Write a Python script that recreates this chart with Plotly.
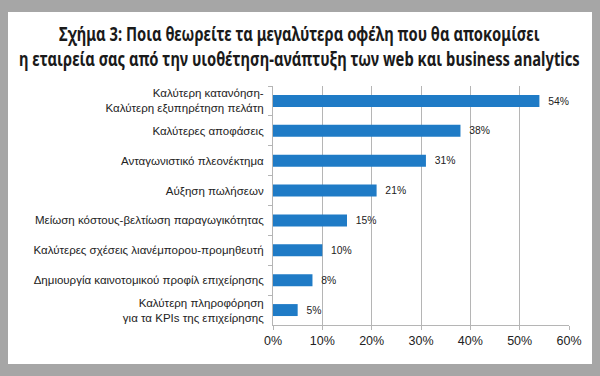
import plotly.graph_objects as go

categories = [
    "Καλύτερη κατανόηση-<br>Καλύτερη εξυπηρέτηση πελάτη",
    "Καλύτερες αποφάσεις",
    "Ανταγωνιστικό πλεονέκτημα",
    "Αύξηση πωλήσεων",
    "Μείωση κόστους-βελτίωση παραγωγικότητας",
    "Καλύτερες σχέσεις λιανέμπορου-προμηθευτή",
    "Δημιουργία καινοτομικού προφίλ επιχείρησης",
    "Καλύτερη πληροφόρηση<br>για τα KPIs της επιχείρησης",
]
values = [54, 38, 31, 21, 15, 10, 8, 5]
x_ticks = [0, 10, 20, 30, 40, 50, 60]
x_tick_labels = ["0%", "10%", "20%", "30%", "40%", "50%", "60%"]

title_text = ("Σχήμα 3: Ποια θεωρείτε τα μεγαλύτερα οφέλη που θα αποκομίσει<br>"
              "η εταιρεία σας από την υιοθέτηση-ανάπτυξη των web και business analytics")

L, R, T, B = 273, 31, 86, 51
W, H = 600, 376
pw, ph = W - L - R, H - T - B

def px2x(px):
    return (px - L) / pw

def py2y(py):
    return (H - B - py) / ph

fig = go.Figure()
fig.add_trace(go.Bar(
    x=values, y=categories, orientation="h",
    marker=dict(color="#1f7bc6", line=dict(width=0)),
    text=[f"{v}%" for v in values],
    textposition="outside",
    texttemplate="  %{text}",
    textfont=dict(family="Liberation Sans, Arial", size=13, color="#222222"),
    cliponaxis=False,
    width=0.4,
))

fig.add_shape(type="rect", xref="paper", yref="paper",
              x0=px2x(8), x1=px2x(592), y0=py2y(364), y1=py2y(12),
              fillcolor="white", line=dict(width=0), layer="below")

fig.add_annotation(text=title_text, xref="paper", yref="paper",
                   x=px2x(299), y=py2y(47), xanchor="center", yanchor="middle",
                   showarrow=False, align="center",
                   font=dict(family="Noto Sans", size=19,
                             color="#1a1a1a", weight="bold"))

fig.update_layout(
    width=W, height=H,
    margin=dict(l=L, r=R, t=T, b=B),
    paper_bgcolor="#a6a6a6",
    plot_bgcolor="white",
    showlegend=False,
    xaxis=dict(range=[0, 60], tickvals=x_ticks, ticktext=x_tick_labels,
               showgrid=True, gridcolor="#b5b5b5", gridwidth=1,
               showline=True, linecolor="#b5b5b5", linewidth=1,
               ticks="outside", ticklen=4, tickcolor="#b5b5b5",
               tickfont=dict(family="Liberation Sans, Arial", size=12.5, color="#222222"),
               zeroline=False, fixedrange=True),
    yaxis=dict(autorange="reversed", showline=True, linecolor="#b5b5b5", linewidth=1,
               ticks="outside", ticklen=4, tickcolor="#b5b5b5", tickson="boundaries",
               tickfont=dict(family="Liberation Sans, Arial", size=11.5, color="#222222"),
               ticklabelstandoff=6, showgrid=False, fixedrange=True),
)

post = """
document.body.style.margin='0';
var t = document.querySelector('.annotation-text');
if (t) {
  t.style.fontStretch = 'extra-condensed';
  var bb = t.getBBox();
  var target = 561;
  if (bb.width > target + 6) {
    var cx = bb.x + bb.width / 2;
    var s = target / bb.width;
    t.setAttribute('transform', 'translate(' + cx + ',0) scale(' + s + ',1) translate(' + (-cx) + ',0)');
  }
}
"""

fig.write_html("out.html", config={"displayModeBar": False}, post_script=post)
